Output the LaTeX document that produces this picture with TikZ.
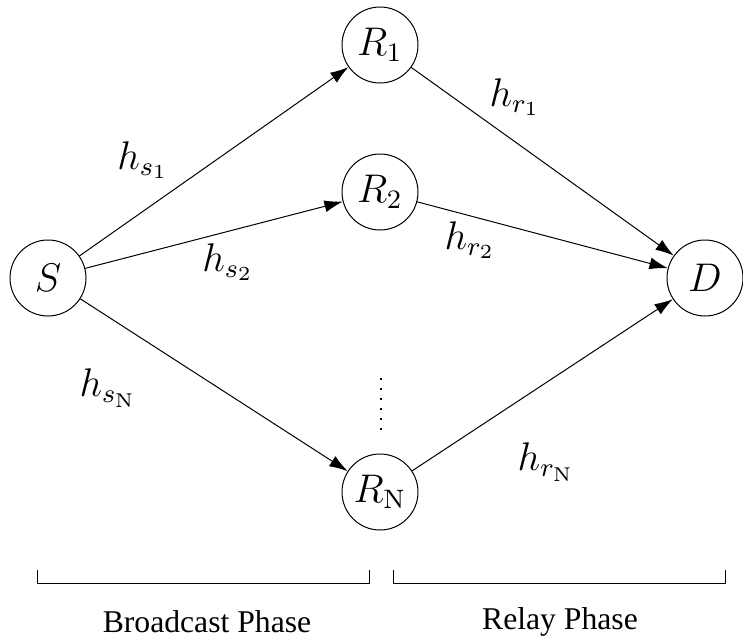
\documentclass[tikz,border=0pt]{standalone}
\usepackage[no-math]{fontspec}
\setmainfont{Liberation Serif}
\newfontfamily\phasefont{Liberation Serif}
\usetikzlibrary{arrows.meta}
\tikzset{
  station/.style={draw, circle, minimum size=22.8pt, inner sep=0pt, line width=0.3pt,
    font=\fontsize{12}{14}\selectfont},
  link/.style={-{Latex[length=5.5pt,width=3.6pt]}, line width=0.3pt},
  gain/.style={inner sep=0pt, font=\fontsize{12}{14}\selectfont},
  phase/.style={inner sep=0pt, font=\phasefont\fontsize{9.5}{11}\selectfont}
}
\begin{document}
\begin{tikzpicture}[x=0.3pt, y=-0.3pt]
  \useasboundingbox (0,0) rectangle (743,644);
  % source, relays and destination
  \node[station] (S)  at (48,278)  {$S$};
  \node[station] (R1) at (380,45)  {$R_1$};
  \node[station] (R2) at (380,192) {$R_2$};
  \node[station] (RN) at (380,492) {$R_{\mathrm{N}}$};
  \node[station] (D)  at (705,278) {$D$};
  % broadcast links
  \draw[link] (S) -- (R1);
  \draw[link] (S) -- (R2);
  \draw[link] (S) -- (RN);
  % relay links
  \draw[link] (R1) -- (D);
  \draw[link] (R2) -- (D);
  \draw[link] (RN) -- (D);
  % channel gains
  \node[gain] (g1) at (143,160) {$h_{s_1}$};
  \node[gain] (g2) at (228,262) {$h_{s_2}$};
  \node[gain] (g3) at (108,388) {$h_{s_{\mathrm{N}}}$};
  \node[gain] (g4) at (515,97)  {$h_{r_1}$};
  \node[gain] (g5) at (470,240) {$h_{r_2}$};
  \node[gain] (g6) at (546,462) {$h_{r_{\mathrm{N}}}$};
  % further relays
  \coordinate (dt) at (381,378);
  \coordinate (db) at (381,432);
  \draw[line width=0.5pt, dash pattern=on 0.6pt off 2.4pt] (dt) -- (db);
  % phase brackets
  \coordinate (b1) at (37,570);  \coordinate (b2) at (37,583);
  \coordinate (b3) at (369,583); \coordinate (b4) at (369,570);
  \coordinate (c1) at (393,570); \coordinate (c2) at (393,583);
  \coordinate (c3) at (725,583); \coordinate (c4) at (725,570);
  \draw[line width=0.3pt] (b1) -- (b2) -- (b3) -- (b4);
  \draw[line width=0.3pt] (c1) -- (c2) -- (c3) -- (c4);
  \node[phase] (bp) at (207,622) {Broadcast Phase};
  \node[phase] (rp) at (560,622) {Relay Phase};
\end{tikzpicture}
\end{document}
